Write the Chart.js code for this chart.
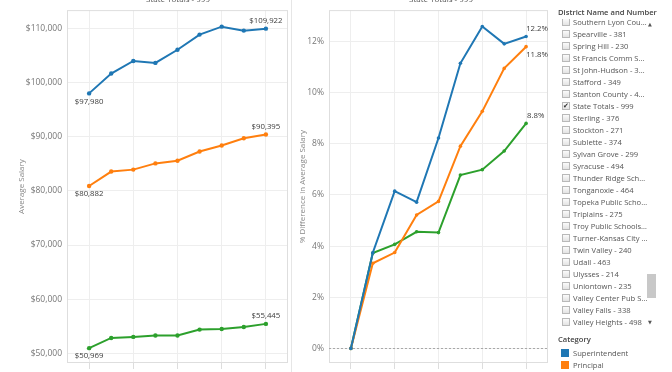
<!DOCTYPE html>
<html><head><meta charset="utf-8">
<script src="https://cdn.jsdelivr.net/npm/chart.js@4.4.1/dist/chart.umd.min.js"></script>
<style>
html,body{margin:0;padding:0;background:#fff;}
body{width:672px;height:372px;overflow:hidden;position:relative;font-family:"Open Sans",sans-serif;}
canvas{position:absolute;top:0;}
#c1{left:0;}
#c2{left:290px;}
.hdr{position:absolute;top:-6px;font-size:8px;line-height:10px;color:#555;transform:translateX(-50%);white-space:nowrap;}
.ttl{position:absolute;font-size:7.6px;font-weight:600;color:#444;white-space:nowrap;}
#list{position:absolute;left:556px;top:19px;width:104px;height:309px;overflow:hidden;}
.row{position:absolute;left:0;height:12px;line-height:12px;font-size:7.6px;color:#555;white-space:nowrap;}
.cb{position:absolute;left:6px;top:2.5px;width:6px;height:6px;border:1px solid #b9b9b9;background:linear-gradient(#fbfbfb,#e3e3e3);}
.ck{position:absolute;left:0px;top:-3px;font-size:7px;line-height:12px;color:#333;font-family:"DejaVu Sans",sans-serif;}
.tx{position:absolute;left:17px;top:0;}
.arrow{position:absolute;left:648px;font-size:5px;color:#555;font-family:"DejaVu Sans",sans-serif;}
#thumb{position:absolute;left:647px;top:274px;width:9px;height:24px;background:#c8c8c8;}
.sw{position:absolute;left:561px;width:8px;height:8px;}
.lg{position:absolute;left:573px;font-size:7.6px;color:#555;line-height:10px;white-space:nowrap;}
.sep{position:absolute;top:0;width:1px;height:372px;background:#e6e6e6;}
</style></head>
<body>
<canvas id="c1" width="292" height="392"></canvas>
<canvas id="c2" width="262" height="392"></canvas>
<div class="sep" style="left:291px"></div>
<div class="hdr" style="left:178px">State Totals - 999</div>
<div class="hdr" style="left:441px">State Totals - 999</div>
<div class="ttl" style="left:558px;top:7px">District Name and Number</div>
<div id="list"></div>
<div class="arrow" style="top:21px">▲</div>
<div class="arrow" style="top:319px">▼</div>
<div id="thumb"></div>
<div class="ttl" style="left:558px;top:334px">Category</div>
<div id="legend"></div>
<script>
// ---- data ----
const years = ['2006','2007','2008','2009','2010','2011','2012','2013','2014'];
const categories = ['Superintendent','Principal','Teacher'];
const superSalary = [97980,101640,103960,103600,106030,108830,110290,109560,109922];
const principalSalary = [80882,83550,83910,85060,85550,87250,88350,89700,90395];
const teacherSalary = [50969,52850,53040,53290,53290,54390,54500,54870,55445];
const superPct = [0,3.74,6.15,5.72,8.23,11.15,12.59,11.91,12.2];
const principalPct = [0,3.33,3.75,5.22,5.75,7.91,9.27,10.95,11.8];
const teacherPct = [0,3.73,4.07,4.56,4.53,6.78,6.99,7.72,8.8];
const salaryTicks = [50000,60000,70000,80000,90000,100000,110000];
const pctTicks = [0,2,4,6,8,10,12];
const yearTickIdx = [0,2,4,6,8];
const districts = ['Southern Lyon Cou…','Spearville - 381','Spring Hill - 230','St Francis Comm S…','St John-Hudson - 3…','Stafford - 349','Stanton County - 4…','State Totals - 999','Sterling - 376','Stockton - 271','Sublette - 374','Sylvan Grove - 299','Syracuse - 494','Thunder Ridge Sch…','Tonganoxie - 464','Topeka Public Scho…','Triplains - 275','Troy Public Schools…','Turner-Kansas City …','Twin Valley - 240','Udall - 463','Ulysses - 214','Uniontown - 235','Valley Center Pub S…','Valley Falls - 338','Valley Heights - 498'];
const checkedDistrict = 'State Totals - 999';

// ---- style ----
const colors = ['#1f77b4','#ff7f0e','#2ca02c'];
const FONT = '"Open Sans", sans-serif';
const gridColor = '#eeeeee';
const frameColor = '#dedede';

const pts = arr => arr.map((v,i)=>({x:i,y:v}));
const chartCfg = {};  // per-canvas extras (formatters, label placement, zero line)

const framePlugin = {
  id:'frame',
  beforeDatasetsDraw(chart){
    const {ctx, chartArea:a} = chart;
    const cfg = chartCfg[chart.canvas.id];
    ctx.save();
    ctx.strokeStyle = frameColor; ctx.lineWidth = 1;
    ctx.strokeRect(a.left+0.5, a.top+0.5, a.right-a.left-1, a.bottom-a.top-1);
    if (cfg.zeroLine) {
      const y = Math.round(chart.scales.y.getPixelForValue(0))+0.5;
      ctx.strokeStyle = '#a8a8a8'; ctx.setLineDash([2,2]);
      ctx.beginPath(); ctx.moveTo(a.left, y); ctx.lineTo(a.right, y); ctx.stroke();
    }
    ctx.restore();
  }
};

const labelPlugin = {
  id:'endLabels',
  afterDatasetsDraw(chart){
    const {ctx, chartArea:a} = chart;
    const cfg = chartCfg[chart.canvas.id];
    ctx.save();
    ctx.font = '7.8px ' + FONT;
    ctx.fillStyle = '#3c3c3c';
    ctx.textBaseline = 'middle';
    ctx.textAlign = 'left';
    chart.data.datasets.forEach((ds, di) => {
      const meta = chart.getDatasetMeta(di);
      const place = cfg.places[di];
      const draw = (idx, pos) => {
        if (!pos) return;
        const el = meta.data[idx];
        const txt = cfg.format(ds.data[idx].y);
        const w = ctx.measureText(txt).width;
        let x = cfg.alignStart ? el.x + 1 : el.x - w/2;
        if (x < a.left - 1) x = a.left - 1;
        if (x + w > a.right) x = a.right - w;
        const y = el.y + (pos === 'above' ? -8 : 8);
        ctx.fillText(txt, x, y);
      };
      draw(0, place.first);
      draw(ds.data.length-1, place.last);
    });
    ctx.restore();
  }
};

function makeChart(id, series, opts){
  chartCfg[id] = {format: opts.format, places: opts.places, zeroLine: opts.zeroLine, alignStart: opts.alignStart};
  return new Chart(document.getElementById(id), {
    type:'line',
    data:{ datasets: series.map((s,i)=>({
      label: categories[i],
      data: pts(s),
      borderColor: colors[i], backgroundColor: colors[i],
      pointBackgroundColor: colors[i], pointBorderColor: colors[i],
      borderWidth: 2, pointRadius: opts.pointRadius, pointBorderWidth: 0,
      tension: 0
    }))},
    options:{
      responsive:false, animation:false,
      layout:{padding:{top:7, right:opts.padRight, left:0, bottom:0}},
      plugins:{ legend:{display:false}, tooltip:{enabled:false} },
      scales:{
        x:{ type:'linear', min:-1, max:9,
          afterBuildTicks: s => { s.ticks = yearTickIdx.map(v=>({value:v})); },
          afterFit: s => { s.height = 29; },
          grid:{ color:gridColor, drawTicks:true, tickLength:6, tickColor:'#dddddd' },
          border:{display:false},
          ticks:{ callback: v => years[v], font:{family:FONT,size:8.5}, color:'#777', maxRotation:0, autoSkip:false }
        },
        y:{ type:'linear', min:opts.yMin, max:opts.yMax,
          afterBuildTicks: s => { s.ticks = opts.yTicks.map(v=>({value:v})); },
          afterFit: s => { s.width = opts.yWidth; },
          grid:{ color:gridColor, drawTicks:false },
          border:{display:false},
          ticks:{ callback: opts.tickFmt, font:{family:FONT,size:8.5}, color:'#777', padding:5, autoSkip:false },
          title:{ display:true, text:opts.title, font:{family:FONT,size:8}, color:'#888', padding:{top:opts.titlePad,bottom:0} }
        }
      }
    },
    plugins:[framePlugin, labelPlugin]
  });
}

const money = v => '$' + Math.round(v).toLocaleString('en-US');
makeChart('c1', [superSalary, principalSalary, teacherSalary], {
  yMin:48226, yMax:113347, yTicks:salaryTicks, yWidth:67, padRight:2, pointRadius:2.2,
  tickFmt: v => money(v), format: money, title:'Average Salary', titlePad:17, zeroLine:false, alignStart:false,
  places:[{first:'below',last:'above'},{first:'below',last:'above'},{first:'below',last:'above'}]
});
makeChart('c2', [superPct, principalPct, teacherPct], {
  yMin:-0.57, yMax:13.23, yTicks:pctTicks, yWidth:39, padRight:1, pointRadius:1.8,
  tickFmt: v => v + '%', format: v => v.toFixed(1) + '%', title:'% Difference in Average Salary', titlePad:8, zeroLine:true, alignStart:true,
  places:[{last:'above'},{last:'below'},{last:'above'}]
});

// ---- filter list ----
const list = document.getElementById('list');
districts.forEach((d,i)=>{
  const r = document.createElement('div');
  r.className = 'row';
  r.style.top = (i*12 - 3.5) + 'px';
  const cb = document.createElement('span'); cb.className = 'cb';
  if (d === checkedDistrict) { const k = document.createElement('span'); k.className='ck'; k.textContent='✔'; cb.appendChild(k); }
  const t = document.createElement('span'); t.className='tx'; t.textContent = d;
  r.appendChild(cb); r.appendChild(t); list.appendChild(r);
});
// ---- legend ----
const lg = document.getElementById('legend');
categories.forEach((c,i)=>{
  const sw = document.createElement('div'); sw.className='sw';
  sw.style.top = (349 + i*12) + 'px'; sw.style.background = colors[i];
  const t = document.createElement('div'); t.className='lg';
  t.style.top = (348 + i*12) + 'px'; t.textContent = c;
  lg.appendChild(sw); lg.appendChild(t);
});
</script>
</body></html>
